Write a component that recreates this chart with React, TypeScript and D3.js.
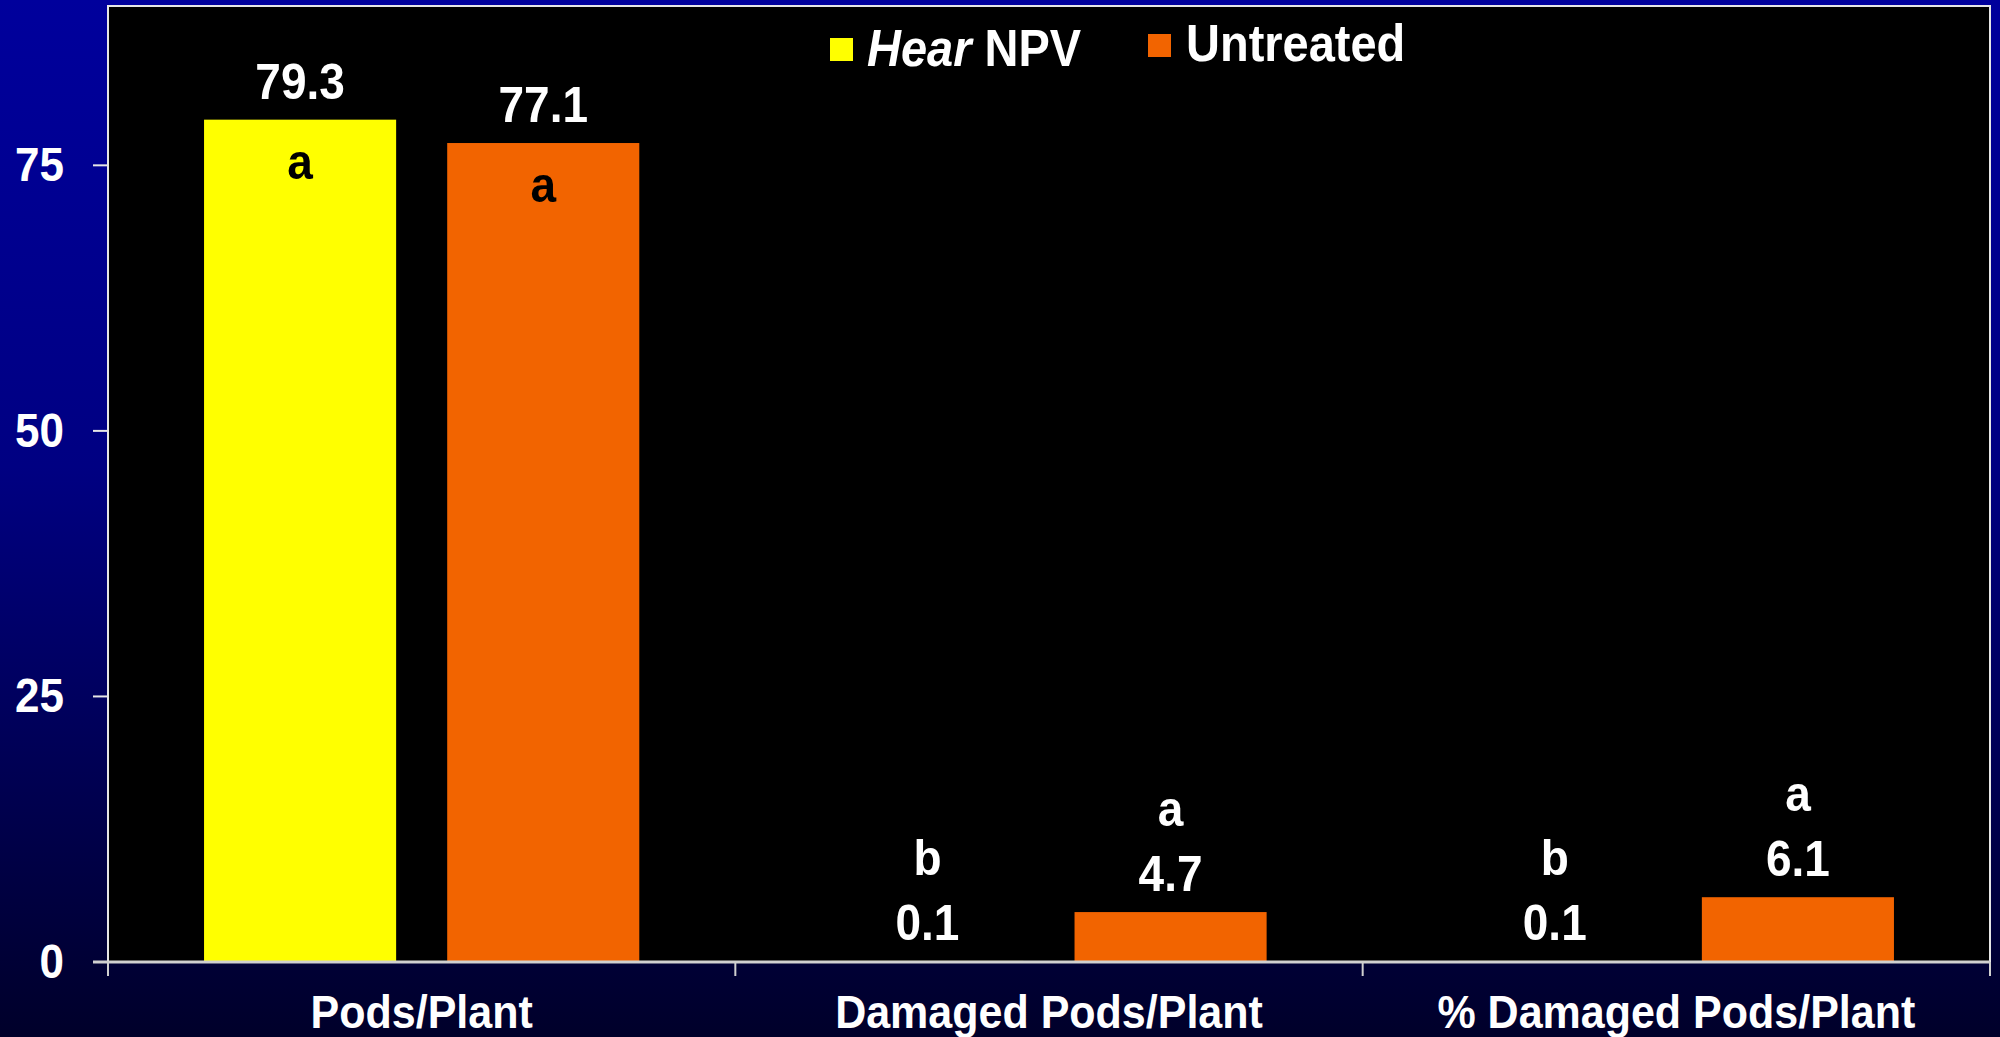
import React from "react";
import * as d3 from "d3";

const categories = ["Pods/Plant", "Damaged Pods/Plant", "% Damaged Pods/Plant"];
const seriesNames = ["Hear NPV", "Untreated"];
const hearValues = [79.3, 0.1, 0.1];
const untreatedValues = [77.1, 4.7, 6.1];
const hearLetters = ["a", "b", "b"];
const untreatedLetters = ["a", "a", "a"];
const yTicks = [0, 25, 50, 75];
const seriesColors = ["#FFFF00", "#F26400"];

const W = 2000;
const H = 1037;
const plot = { left: 108, right: 1990, top: 6, bottom: 962 };
const FONT = "'Liberation Sans', Arial, Helvetica, sans-serif";

export default function App() {
  const x0 = d3.scaleBand<string>().domain(categories).range([plot.left, plot.right]).paddingInner(0).paddingOuter(0);
  const x1 = d3.scaleBand<string>().domain(seriesNames).range([0, x0.bandwidth()]).paddingInner(0.21).paddingOuter(0.395);
  const y = d3.scaleLinear().domain([0, 90]).range([plot.bottom, plot.top]);

  const values = [hearValues, untreatedValues];
  const letters = [hearLetters, untreatedLetters];

  const bars: any[] = [];
  categories.forEach((c, ci) => {
    seriesNames.forEach((s, si) => {
      const v = values[si][ci];
      bars.push({ c, s, v, letter: letters[si][ci], color: seriesColors[si] });
    });
  });

  const T = (x: number, yy: number, sy = 1.1) => `translate(${x},${yy}) scale(1,${sy})`;

  return (
    <svg width={W} height={H} style={{ position: "absolute", left: 0, top: 0, display: "block" }} fontFamily={FONT} fontWeight="bold">
      <defs>
        <linearGradient id="bg" x1="0" y1="0" x2="0" y2="1">
          <stop offset="0" stopColor="#00009C" />
          <stop offset="0.45" stopColor="#000082" />
          <stop offset="0.75" stopColor="#000052" />
          <stop offset="1" stopColor="#00002A" />
        </linearGradient>
      </defs>
      <rect x={0} y={0} width={W} height={H} fill="url(#bg)" />
      <rect x={plot.left} y={plot.top} width={plot.right - plot.left} height={plot.bottom - plot.top} fill="#000" stroke="#E6E6E6" strokeWidth={2} />

      {/* y axis ticks */}
      {yTicks.map((t) => (
        <g key={t}>
          <line x1={plot.left - 15} x2={plot.left} y1={y(t)} y2={y(t)} stroke="#E6E6E6" strokeWidth={2} />
          <text transform={T(64, y(t) + 16)} textAnchor="end" fontSize={44} fill="#fff">{t}</text>
        </g>
      ))}

      {/* x axis ticks */}
      {[...categories.map((c) => x0(c)!), plot.right].map((xv, i) => (
        <line key={i} x1={xv} x2={xv} y1={plot.bottom} y2={plot.bottom + 14} stroke="#D0D0D0" strokeWidth={2} />
      ))}
      {categories.map((c) => (
        <text key={c} transform={T(x0(c)! + x0.bandwidth() / 2, 1028, 1.08)} textAnchor="middle" fontSize={43} fill="#fff">{c}</text>
      ))}

      {/* bars */}
      {bars.map((b, i) => {
        const bx = x0(b.c)! + x1(b.s)!;
        const bw = x1.bandwidth();
        const top = y(b.v);
        const cx = bx + bw / 2;
        const inside = plot.bottom - top > 200;
        return (
          <g key={i}>
            <rect x={bx} y={top} width={bw} height={plot.bottom - top} fill={b.color} />
            <text transform={T(cx, top - 21)} textAnchor="middle" fontSize={46} fill="#fff">{b.v.toFixed(1)}</text>
            <text transform={T(cx, inside ? top + 59 : top - 86)} textAnchor="middle" fontSize={46} fill={inside ? "#000" : "#fff"}>{b.letter}</text>
          </g>
        );
      })}

      {/* axis line */}
      <line x1={plot.left - 15} x2={plot.right} y1={plot.bottom} y2={plot.bottom} stroke="#D0D0D0" strokeWidth={3} />

      {/* legend */}
      <rect x={830} y={38} width={23} height={23} fill={seriesColors[0]} />
      <text transform={T(867, 66)} fontSize={47} fill="#fff">
        <tspan fontStyle="italic">Hear</tspan> NPV
      </text>
      <rect x={1148} y={34} width={23} height={23} fill={seriesColors[1]} />
      <text transform={T(1186, 61)} fontSize={47} fill="#fff">{seriesNames[1]}</text>
    </svg>
  );
}
